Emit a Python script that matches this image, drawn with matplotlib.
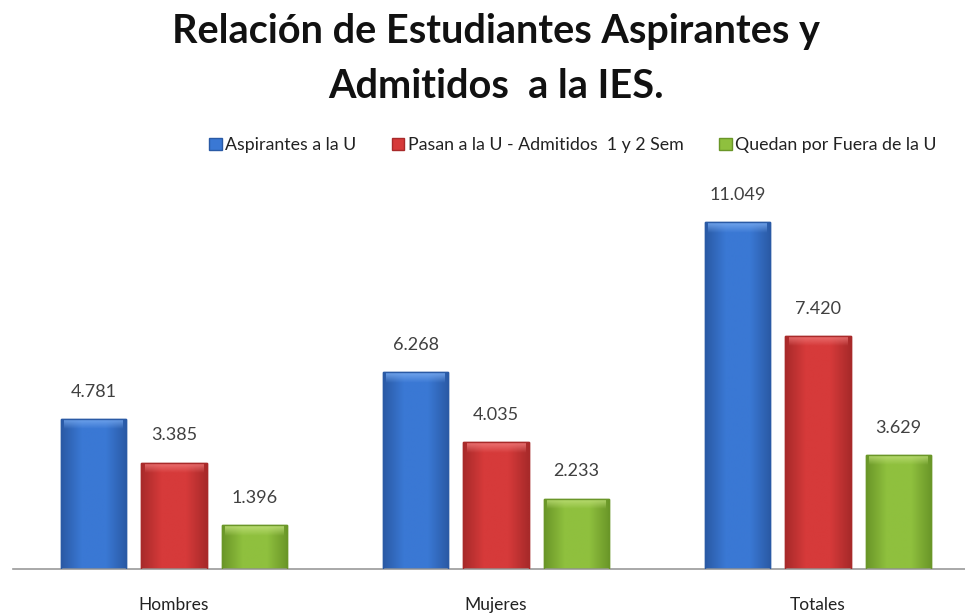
import matplotlib
matplotlib.use("Agg")
import matplotlib.pyplot as plt
import matplotlib.colors as mcolors
import numpy as np
from matplotlib.patches import Rectangle

categories = ["Hombres", "Mujeres", "Totales"]
series_names = ["Aspirantes a la U", "Pasan a la U - Admitidos  1 y 2 Sem", "Quedan por Fuera de la U"]
aspirantes = [4781, 6268, 11049]
admitidos = [3385, 4035, 7420]
fuera = [1396, 2233, 3629]
value_labels = [["4.781", "6.268", "11.049"],
                ["3.385", "4.035", "7.420"],
                ["1.396", "2.233", "3.629"]]

colors = ["#3a78d4", "#d63a3a", "#8fc03e"]
edge_colors = ["#2a5aa5", "#a82a2a", "#6a9628"]
light_colors = ["#78aaf0", "#f07a7a", "#c0e07a"]

plt.rcParams['font.family'] = ["Lato", "DejaVu Sans"]

fig = plt.figure(figsize=(9.65, 6.14), dpi=100)
ax = fig.add_axes([13/965, 1 - 569/614, (979 - 13)/965, (569 - 161)/614])

x = np.arange(len(categories))
width = 0.202
offsets = [-0.25, 0.0, 0.25]
data = [aspirantes, admitidos, fuera]

grad = np.linspace(0, 1, 64)
prof = np.clip((1 - np.abs(grad - 0.5) * 2) * 1.6, 0, 1)
vgrad = np.linspace(0, 1, 32)

for i, (vals, off) in enumerate(zip(data, offsets)):
    bars = ax.bar(x + off, vals, width, color=colors[i], edgecolor=edge_colors[i],
                  linewidth=1.0, label=series_names[i], zorder=2)
    c0 = np.array(mcolors.to_rgb(edge_colors[i]))
    c1 = np.array(mcolors.to_rgb(colors[i]))
    cl = np.array(mcolors.to_rgb(light_colors[i]))
    img = c0[None, None, :] * (1 - prof[None, :, None]) + c1[None, None, :] * prof[None, :, None]
    for b, lab in zip(bars, value_labels[i]):
        bx, bw, bh = b.get_x(), b.get_width(), b.get_height()
        im = ax.imshow(img, extent=[bx, bx + bw, 0, bh], aspect='auto', zorder=2.5,
                       interpolation='bilinear')
        im.set_clip_path(b)
        bev_h = 330
        rgba = np.zeros((32, 1, 4))
        rgba[:, 0, :3] = cl
        rgba[:, 0, 3] = 0.85 * vgrad
        ax.imshow(rgba, extent=[bx + bw * 0.05, bx + bw * 0.95, bh - bev_h, bh - 40],
                  aspect='auto', zorder=3, interpolation='bilinear', origin='lower')
        ax.add_patch(Rectangle((bx, 0), bw, bh, facecolor='none',
                               edgecolor=edge_colors[i], linewidth=1.0, zorder=4))
        ax.annotate(lab, (bx + bw / 2, bh), xytext=(0, 14), textcoords='offset points',
                    ha='center', va='bottom', fontsize=13, color='#404040')

ax.set_xlim(-0.5, 2.5)
ax.set_ylim(0, 13000)
ax.set_xticks(x)
ax.set_xticklabels(categories, fontsize=12.5, color='#222222')
ax.tick_params(axis='x', length=0, pad=20)
ax.set_yticks([])
for s in ['top', 'right', 'left']:
    ax.spines[s].set_visible(False)
ax.spines['bottom'].set_color('#9a9a9a')
ax.spines['bottom'].set_linewidth(1.2)

fig.text(496/965, 1 - 31/614, "Relación de Estudiantes Aspirantes y", ha='center', va='center',
         fontsize=28.5, fontweight='bold', color='#111111')
fig.text(496/965, 1 - 86/614, "Admitidos  a la IES.", ha='center', va='center',
         fontsize=28.5, fontweight='bold', color='#111111')

handles = [Rectangle((0, 0), 1, 1, facecolor=colors[i], edgecolor=edge_colors[i]) for i in range(3)]
fig.legend(handles, series_names, loc='center', bbox_to_anchor=(573/965, 1 - 145/614),
           ncol=3, frameon=False, fontsize=12.8, handlelength=0.7, handleheight=0.7,
           handletextpad=0.2, columnspacing=2.0, labelcolor='#222222')

fig.savefig("out.png", dpi=100)
